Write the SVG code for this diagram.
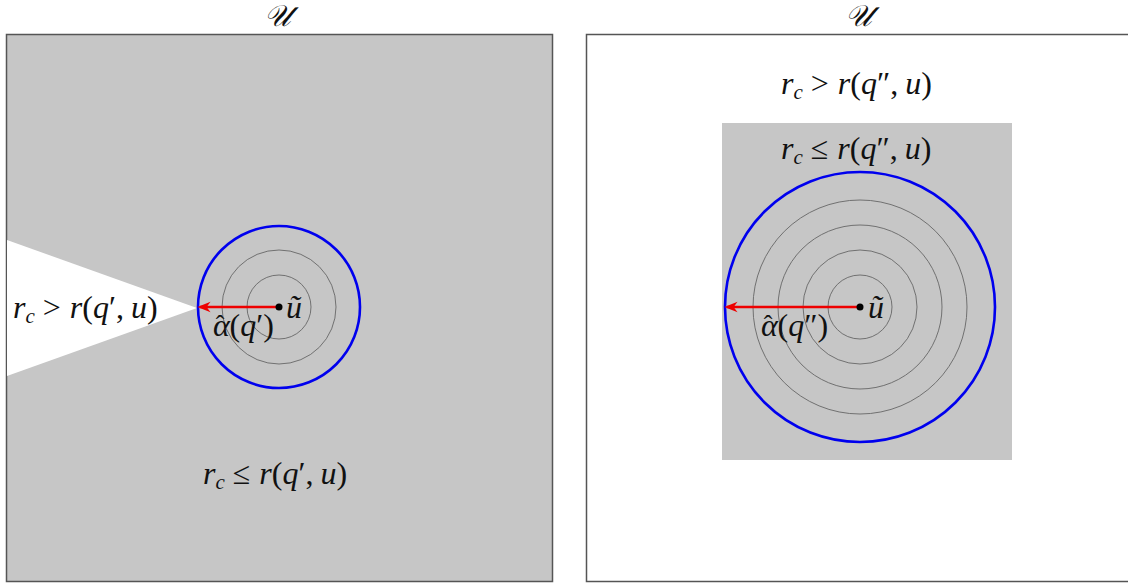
<svg xmlns="http://www.w3.org/2000/svg" width="1128" height="584" viewBox="0 0 1128 584">
<style>
.t{font-family:"Liberation Serif","DejaVu Serif",serif;font-size:32px;fill:#111}
.i{font-style:italic}
.sub{font-size:21px;font-style:italic}
.hat{font-size:26px;font-style:normal}
.cal{font-family:"DejaVu Serif","Liberation Serif",serif;font-size:30px;fill:#111;font-style:italic}
.ring{fill:none;stroke:#666;stroke-width:0.9}
.blue{fill:none;stroke:#0000ee;stroke-width:2.6}
.arr{stroke:#ee0000;stroke-width:2.4;marker-end:url(#ah)}
.frame{stroke:#555;stroke-width:1.5}
</style>
<defs>
<marker id="ah" viewBox="0 0 10 10" refX="8" refY="5" markerWidth="5.5" markerHeight="5.5" orient="auto"><path d="M0,1 L10,5 L0,9 L3,5 Z" fill="#ee0000"/></marker>
</defs>
<rect width="1128" height="584" fill="#fff"/>
<g id="left-panel">
<rect class="frame" x="6.5" y="34.5" width="546" height="547" fill="#c6c6c6"/>
<polygon points="7,240 197,308 7,376" fill="#fff"/>
<text class="cal" x="277" y="26" text-anchor="middle">𝒰</text>
</g>
<g id="left-circles">
<circle class="ring" cx="279" cy="307" r="32"/>
<circle class="ring" cx="279" cy="307" r="57"/>
<circle class="blue" cx="279" cy="307" r="81"/>
</g>
<g id="right-panel">
<rect class="frame" x="586.5" y="34.5" width="545" height="547" fill="#fff"/>
<rect x="722" y="123" width="290" height="337" fill="#c6c6c6"/>
<text class="cal" x="858" y="26" text-anchor="middle">𝒰</text>
</g>
<g id="right-circles">
<circle class="ring" cx="860" cy="307" r="32"/>
<circle class="ring" cx="860" cy="307" r="57"/>
<circle class="ring" cx="860" cy="307" r="82"/>
<circle class="ring" cx="860" cy="307" r="107"/>
<circle class="blue" cx="860" cy="307" r="135"/>
</g>
<g id="connectors">
<line class="arr" x1="279" y1="307" x2="200" y2="307"/>
<line class="arr" x1="860" y1="307" x2="727" y2="307"/>
</g>
<g id="dots">
<circle cx="279" cy="307" r="3.5" fill="#000"/>
<circle cx="860" cy="307" r="3.5" fill="#000"/>
</g>
<g id="labels">
<text class="t" x="13" y="318"><tspan class="i">r</tspan><tspan class="sub" dy="5">c</tspan><tspan dy="-5" dx="8">&gt;</tspan><tspan class="i" dx="9">r</tspan>(<tspan class="i">q</tspan>′,<tspan class="i" dx="7">u</tspan>)</text>
<text class="t" x="213" y="336"><tspan class="i">α</tspan><tspan class="hat" dx="-14" dy="-3">ˆ</tspan><tspan dx="5" dy="3">(</tspan><tspan class="i">q</tspan>′)</text>
<text class="t" x="286" y="318"><tspan class="i">ũ</tspan></text>
<text class="t" x="203" y="484"><tspan class="i">r</tspan><tspan class="sub" dy="5">c</tspan><tspan dy="-5" dx="8">≤</tspan><tspan class="i" dx="9">r</tspan>(<tspan class="i">q</tspan>′,<tspan class="i" dx="7">u</tspan>)</text>
<text class="t" x="781" y="94"><tspan class="i">r</tspan><tspan class="sub" dy="5">c</tspan><tspan dy="-5" dx="8">&gt;</tspan><tspan class="i" dx="9">r</tspan>(<tspan class="i">q</tspan>″,<tspan class="i" dx="7">u</tspan>)</text>
<text class="t" x="781" y="159"><tspan class="i">r</tspan><tspan class="sub" dy="5">c</tspan><tspan dy="-5" dx="8">≤</tspan><tspan class="i" dx="9">r</tspan>(<tspan class="i">q</tspan>″,<tspan class="i" dx="7">u</tspan>)</text>
<text class="t" x="761" y="336"><tspan class="i">α</tspan><tspan class="hat" dx="-14" dy="-3">ˆ</tspan><tspan dx="5" dy="3">(</tspan><tspan class="i">q</tspan>″)</text>
<text class="t" x="868" y="318"><tspan class="i">ũ</tspan></text>
</g>
</svg>
